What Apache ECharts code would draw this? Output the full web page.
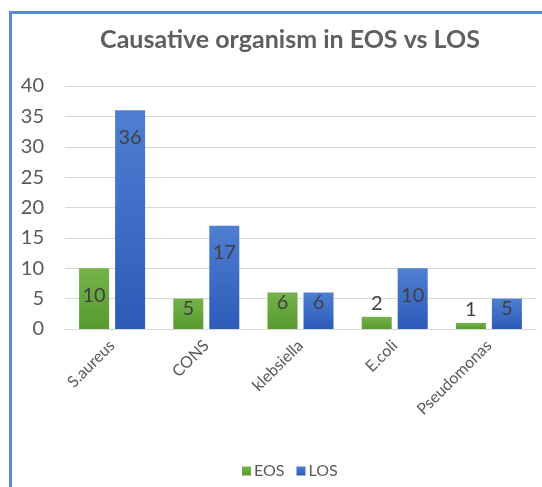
<!DOCTYPE html>
<html>
<head>
<meta charset="utf-8">
<script src="https://cdn.jsdelivr.net/npm/echarts@6/dist/echarts.min.js"></script>
<style>html,body{margin:0;padding:0;background:#fff}#c{width:542px;height:487px}</style>
</head>
<body>
<div id="c"></div>
<script>
const categories = ['S.aureus', 'CONS', 'klebsiella', 'E.coli', 'Pseudomonas'];
const eosValues = [10, 5, 6, 2, 1];
const losValues = [36, 17, 6, 10, 5];
const yTicks = [0, 5, 10, 15, 20, 25, 30, 35, 40];

const font = 'Lato, sans-serif';
function labelled(vals) {
  return vals.map(v => ({
    value: v,
    label: v < 3 ? { position: 'top', distance: 3 } :
           v < 8 ? { position: 'insideTop', distance: 0 } :
                   { position: 'insideTop', distance: 17 }
  }));
}
const chart = echarts.init(document.getElementById('c'));
chart.setOption({
  animation: false,
  backgroundColor: '#fff',
  title: {
    text: 'Causative organism in EOS vs LOS',
    left: 285, top: 22, textAlign: 'center',
    textStyle: { fontFamily: font, fontSize: 25, fontWeight: 'bold', color: '#5f5f5f' }
  },
  legend: {
    bottom: 3, left: 237,
    itemWidth: 9, itemHeight: 9, itemGap: 12,
    icon: 'rect',
    textStyle: { fontFamily: font, fontSize: 16, color: '#595959', padding: [0, 0, 0, -2] },
    data: ['EOS', 'LOS']
  },
  grid: { left: 65, right: 6, top: 86, bottom: 158, containLabel: false },
  xAxis: {
    type: 'category', data: categories,
    axisLine: { lineStyle: { color: '#d9d9d9' } },
    axisTick: { show: false },
    axisLabel: { rotate: 45, fontFamily: font, fontSize: 16, color: '#595959', margin: 14 }
  },
  yAxis: {
    type: 'value', min: yTicks[0], max: yTicks[yTicks.length - 1], interval: 5,
    axisLine: { show: false }, axisTick: { show: false },
    splitLine: { lineStyle: { color: '#d9d9d9' } },
    axisLabel: { fontFamily: font, fontSize: 20, color: '#595959', margin: 21 }
  },
  series: [
    {
      name: 'EOS', type: 'bar', data: labelled(eosValues), barWidth: 30, barGap: '20%',
      itemStyle: { color: new echarts.graphic.LinearGradient(0, 0, 0, 1, [
        { offset: 0, color: '#74b34a' }, { offset: 1, color: '#589a2f' }]) },
      label: { show: true, fontFamily: font, fontSize: 20, color: '#404040' }
    },
    {
      name: 'LOS', type: 'bar', data: labelled(losValues), barWidth: 30,
      itemStyle: { color: new echarts.graphic.LinearGradient(0, 0, 0, 1, [
        { offset: 0, color: '#4e7fd2' }, { offset: 1, color: '#2c5bb8' }]) },
      label: { show: true, fontFamily: font, fontSize: 20, color: '#404040' }
    }
  ],
  graphic: [
    { type: 'line', shape: { x1: 10.5, y1: 12.5, x2: 542, y2: 12.5 }, style: { stroke: '#5b8bd0', lineWidth: 3 } },
    { type: 'line', shape: { x1: 10.5, y1: 11, x2: 10.5, y2: 487 }, style: { stroke: '#5b8bd0', lineWidth: 3 } }
  ]
});
</script>
</body>
</html>
